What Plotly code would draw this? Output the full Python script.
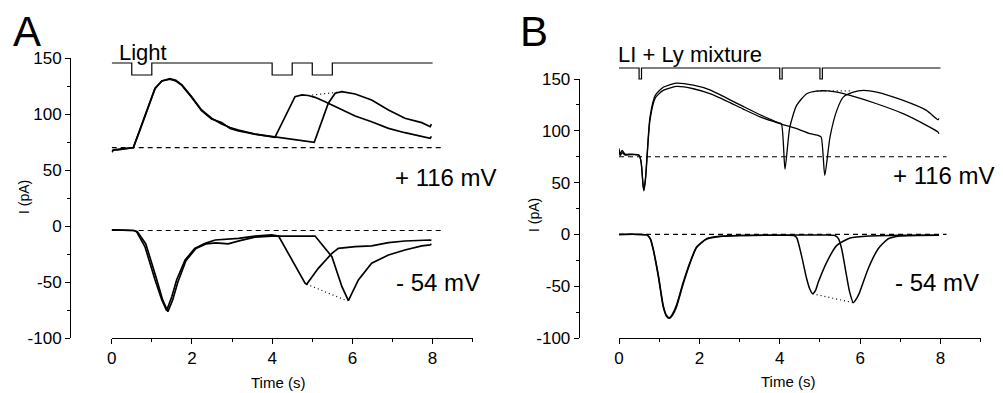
import plotly.graph_objects as go

# ---------------- data ----------------
# Panel A, +116 mV: recording with 2nd flash at 4.0 s
a_top1_t = [0, 0.05, 0.15, 0.3, 0.45, 0.54, 0.7, 0.91, 1.08, 1.25, 1.45, 1.6, 1.75, 1.99, 2.24, 2.49, 2.74,
            2.95, 3.16, 3.57, 3.99, 4.07, 4.57, 4.74, 4.9, 5.07, 5.32, 5.65, 6.07, 6.48, 6.9, 7.31, 7.73, 7.94, 7.97]
a_top1_i = [66, 68, 68.5, 69, 69.5, 70, 86, 106.5, 123, 129.5, 131.5, 130, 126, 115.5, 103.6, 96.2, 91,
            88, 85.7, 82.1, 79.7, 79.2, 115.5, 117, 116.5, 114.9, 111, 105.1, 98.2, 93.1, 87.2, 83.3, 79.8, 78.3, 80]
# Panel A, +116 mV: recording with 2nd flash at 5.0 s
a_top2_t = [0, 0.05, 0.15, 0.3, 0.45, 0.54, 0.7, 0.91, 1.08, 1.25, 1.45, 1.6, 1.75, 1.99, 2.24, 2.49, 2.74,
            2.95, 3.16, 3.57, 3.99, 4.4, 4.82, 5.05, 5.4, 5.57, 5.74, 6.07, 6.48, 6.9, 7.31, 7.73, 7.94, 7.97]
a_top2_i = [67, 68, 68, 69, 69.5, 70, 85, 106, 122.5, 129.5, 131, 129.5, 125.5, 115, 103, 95.5, 92.5,
            87, 85, 82, 80, 77.7, 76.2, 74.7, 109.6, 118.5, 120, 117.9, 112.5, 103.6, 96.2, 92.3, 88.7, 91]
# Panel A, -54 mV
a_bot1_t = [0, 0.3, 0.55, 0.62, 0.83, 1.08, 1.25, 1.37, 1.5, 1.62, 1.83, 2.07, 2.33, 2.58, 2.9, 3.16, 3.57,
            3.99, 4.16, 4.49, 4.82, 4.86, 5.15, 5.49, 5.65, 6.07, 6.48, 6.9, 7.31, 7.94, 7.97]
a_bot1_i = [-3.5, -3.8, -4, -5, -18.5, -48, -66, -75.5, -63, -48, -30.4, -20, -15.5, -12.5, -12, -11, -9,
            -8, -9, -30.4, -51, -52, -37.8, -24.4, -19.9, -18.5, -17.8, -14.9, -13.4, -12.5, -13]
a_bot2_t = [0, 0.3, 0.55, 0.64, 0.85, 1.1, 1.27, 1.4, 1.52, 1.65, 1.85, 2.1, 2.35, 2.6, 2.9, 3.2, 3.57,
            3.99, 4.4, 4.8, 5.07, 5.49, 5.74, 5.9, 6.15, 6.48, 6.9, 7.31, 7.73, 7.94, 7.97]
a_bot2_i = [-3.5, -3.8, -4, -5, -16, -45, -66, -76.5, -66, -50, -31, -20, -16, -15, -16, -13, -10,
            -9, -9, -8.5, -9, -27.4, -54.2, -66.7, -48.2, -33.3, -25.9, -21.4, -17.8, -16.9, -16]
a_top_peaks_t = [4.9, 5.65]
a_top_peaks_i = [116.5, 119.5]
a_bot_peaks_t = [4.86, 5.88]
a_bot_peaks_i = [-52, -67]
a_base_t = [0, 8.27]
a_top_base = 70
a_bot_base = -4

# Panel B, +116 mV
b_top1_t = [0, 0.03, 0.08, 0.15, 0.3, 0.5, 0.55, 0.6, 0.62, 0.66, 0.69, 0.77, 0.9, 1.1, 1.43, 1.85, 2.26,
            2.68, 3.09, 3.51, 3.96, 4.04, 4.13, 4.25, 4.42, 4.67, 4.92, 5.2, 5.42, 5.75, 6.41, 7.07, 7.65, 7.94, 7.96]
b_top1_i = [83, 78, 81, 77.5, 77.5, 76.5, 70, 47, 43, 55, 71.4, 113, 134, 142, 146, 144, 139.5,
            131.5, 123.5, 115.5, 108, 107, 63, 103.5, 124.5, 135.8, 138.3, 138.5, 137.3, 134.1, 126.1, 116.5, 105.2, 98.7, 97]
b_top2_t = [0, 0.03, 0.08, 0.15, 0.3, 0.5, 0.55, 0.6, 0.62, 0.66, 0.69, 0.77, 0.9, 1.1, 1.43, 1.85, 2.26,
            2.68, 3.09, 3.51, 3.96, 4.42, 4.75, 4.96, 5.03, 5.12, 5.25, 5.42, 5.58, 5.83, 6.08, 6.41, 7.07, 7.65, 7.94, 7.96]
b_top2_i = [80, 76, 79, 76.5, 77, 76.5, 70, 47, 42, 53, 69, 110, 131.5, 139, 142.8, 140.6, 135.8,
            128.7, 121, 113.5, 107.4, 102, 97.2, 95.5, 94, 56.9, 93.9, 119.7, 132.5, 137.3, 139, 137.3, 129.3, 119.7, 110.7, 112]
# Panel B, -54 mV
b_bot1_t = [0, 0.5, 0.69, 0.78, 0.85, 0.98, 1.1, 1.18, 1.25, 1.33, 1.43, 1.6, 1.77, 1.93, 2.18, 2.51, 3.0,
            4.0, 4.35, 4.42, 4.54, 4.67, 4.75, 4.82, 4.89, 4.96, 5.17, 5.42, 5.75, 6.25, 7.0, 7.96]
b_bot1_i = [0, 0, -0.5, -4, -13.8, -39.6, -68.5, -78, -80.5, -77, -68.5, -46, -26.7, -12.2, -4.2, -1.9, -1,
            -0.8, -1, -3, -20.3, -42.8, -53, -57.3, -54, -46, -26.7, -10.6, -3.5, -1.5, -0.8, -0.7]
b_bot2_t = [0, 0.5, 0.69, 0.78, 0.85, 0.98, 1.1, 1.18, 1.25, 1.33, 1.43, 1.6, 1.77, 1.93, 2.18, 2.51, 3.0,
            4.0, 5.0, 5.37, 5.46, 5.54, 5.66, 5.74, 5.83, 5.91, 5.99, 6.2, 6.45, 6.7, 7.0, 7.96]
b_bot2_i = [0, 0, -0.5, -4.5, -14.5, -41, -70, -79, -81, -78, -70, -47.5, -27.5, -12.8, -4.5, -2, -1,
            -0.8, -0.6, -1, -4, -13.8, -39.6, -55.7, -65.9, -62, -55.7, -33.1, -13.8, -4.2, -1.5, -0.7]
b_top_peaks_t = [4.92, 5.8]
b_top_peaks_i = [138.5, 138.5]
b_bot_peaks_t = [4.82, 5.83]
b_bot_peaks_i = [-57.3, -65.9]
b_base_t = [0, 8.15]
b_top_base = 75
b_bot_base = 0

# stimulus timing (s)
a_pulse_start = [0.5, 4.0, 5.0]
a_pulse_dur = 0.5
b_pulse_start = [0.5, 4.0, 5.0]
b_pulse_dur = 0.06
stim_end = 8.0

y_ticks = [-100, -50, 0, 50, 100, 150]
y_tick_text = ["-100", "-50", "0", "50", "100", "150"]
x_ticks = [0, 2, 4, 6, 8]
x_tick_text = ["0", "2", "4", "6", "8"]

# ---------------- layout helpers ----------------
W, H = 1003, 393
OFF = 8  # the page body adds an 8px margin around the figure
FONT = "Liberation Sans, Arial, Helvetica, sans-serif"


def px(x):
    return (x - OFF) / W


def py(y):
    return 1 - (y - OFF) / H


def stim_steps(starts, dur, end):
    xs, ys = [0], [1]
    for s in starts:
        xs += [s, s, s + dur, s + dur]
        ys += [1, 0, 0, 1]
    xs.append(end)
    ys.append(1)
    return xs, ys


fig = go.Figure()

BLK = "black"


def add_line(x, y, xa, ya, width=1.6, dash=None, shape="linear"):
    fig.add_trace(go.Scatter(x=x, y=y, mode="lines", xaxis=xa, yaxis=ya, showlegend=False,
                             hoverinfo="skip",
                             line=dict(color=BLK, width=width, dash=dash, shape=shape, smoothing=0.6)))


# Panel A
add_line(a_base_t, [a_top_base] * 2, "x", "y", 1.1, "5px,4px")
add_line(a_base_t, [a_bot_base] * 2, "x", "y", 1.1, "5px,4px")
add_line(a_top1_t, a_top1_i, "x", "y", 1.7)
add_line(a_top2_t, a_top2_i, "x", "y", 1.7)
add_line(a_bot1_t, a_bot1_i, "x", "y", 1.7)
add_line(a_bot2_t, a_bot2_i, "x", "y", 1.7)
add_line(a_top_peaks_t, a_top_peaks_i, "x", "y", 1.2, "1px,3px")
add_line(a_bot_peaks_t, a_bot_peaks_i, "x", "y", 1.2, "1px,3px")

# Panel B
add_line(b_base_t, [b_top_base] * 2, "x2", "y2", 1.1, "5px,4px")
add_line(b_base_t, [b_bot_base] * 2, "x2", "y2", 1.1, "5px,4px")
add_line(b_top1_t, b_top1_i, "x2", "y2", 1.3, shape="spline")
add_line(b_top2_t, b_top2_i, "x2", "y2", 1.3, shape="spline")
add_line(b_bot1_t, b_bot1_i, "x2", "y2", 1.5, shape="spline")
add_line(b_bot2_t, b_bot2_i, "x2", "y2", 1.5, shape="spline")
add_line(b_top_peaks_t, b_top_peaks_i, "x2", "y2", 1.2, "1px,3px")
add_line(b_bot_peaks_t, b_bot_peaks_i, "x2", "y2", 1.2, "1px,3px")

# stimulus traces
sx, sy = stim_steps(a_pulse_start, a_pulse_dur, stim_end)
add_line(sx, sy, "x3", "y3", 1.2)
sx, sy = stim_steps(b_pulse_start, b_pulse_dur, stim_end)
add_line(sx, sy, "x4", "y4", 1.2)

tickfont = dict(family=FONT, size=17, color=BLK)


def yaxis_cfg(dom, pos):
    return dict(domain=dom, range=[-100, 150], anchor="free", position=pos, automargin=False,
                tickmode="array", tickvals=y_ticks, ticktext=y_tick_text,
                ticks="outside", ticklen=5, tickwidth=1, tickcolor=BLK,
                minor=dict(dtick=25, tick0=0, ticks="outside", ticklen=3, tickwidth=1, tickcolor=BLK),
                showline=True, linecolor=BLK, linewidth=1, showgrid=False, zeroline=False,
                tickfont=tickfont)


def xaxis_cfg(dom, anchor):
    return dict(domain=dom, range=[0, 9], anchor=anchor, automargin=False,
                tickmode="array", tickvals=x_ticks, ticktext=x_tick_text,
                ticks="outside", ticklen=5, tickwidth=1, tickcolor=BLK,
                minor=dict(dtick=1, tick0=0, ticks="outside", ticklen=3, tickwidth=1, tickcolor=BLK),
                showline=True, linecolor=BLK, linewidth=1, showgrid=False, zeroline=False,
                tickfont=tickfont)


xa_dom = [px(111.7), px(472.7)]
xb_dom = [px(619), px(980.7)]

hidden = dict(visible=False, showgrid=False, zeroline=False, automargin=False)

fig.update_layout(
    width=W, height=H, autosize=False,
    margin=dict(l=0, r=0, t=0, b=0, pad=0, autoexpand=False),
    paper_bgcolor="white", plot_bgcolor="rgba(0,0,0,0)",
    xaxis=xaxis_cfg(xa_dom, "y"),
    yaxis=yaxis_cfg([py(338), py(58)], px(70)),
    xaxis2=xaxis_cfg(xb_dom, "y2"),
    yaxis2=yaxis_cfg([py(338), py(79)], px(578.7)),
    xaxis3=dict(domain=xa_dom, range=[0, 9], anchor="y3", **hidden),
    yaxis3=dict(domain=[py(77.4), py(60.6)], range=[-0.2, 1.2], anchor="x3", **hidden),
    xaxis4=dict(domain=xb_dom, range=[0, 9], anchor="y4", **hidden),
    yaxis4=dict(domain=[py(81.2), py(65.8)], range=[-0.2, 1.2], anchor="x4", **hidden),
    font=dict(family=FONT, color=BLK),
    showlegend=False,
)


def note(text, x, y, size, angle=0):
    fig.add_annotation(text=text, x=px(x), y=py(y), xref="paper", yref="paper",
                       xanchor="center", yanchor="middle", showarrow=False, textangle=angle,
                       font=dict(family=FONT, size=size, color=BLK))


note("A", 27, 32, 42)
note("B", 534, 32, 42)
note("Light", 143, 52, 22)
note("LI + Ly mixture", 690, 54, 22)
note("+ 116 mV", 446, 177, 24)
note("- 54 mV", 438, 282, 24)
note("+ 116 mV", 944, 175, 24)
note("- 54 mV", 937, 282, 24)
note("Time (s)", 278, 382, 15)
note("Time (s)", 788, 381, 15)
note("I (pA)", 24, 197, 14, -90)
note("I (pA)", 534, 215, 14, -90)

fig.write_html("out.html")
